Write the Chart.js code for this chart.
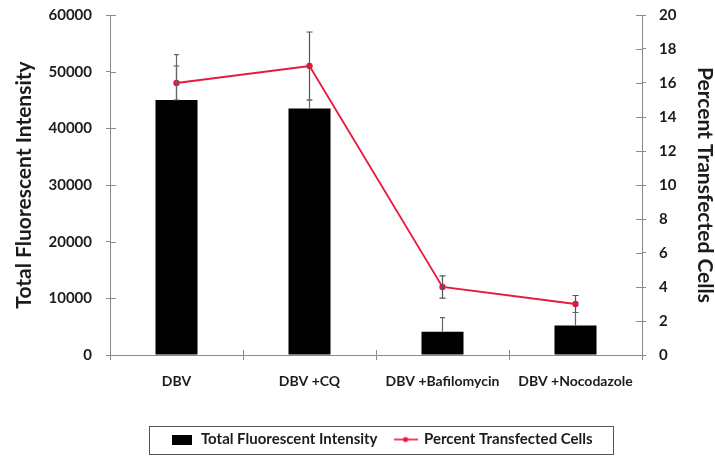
<!DOCTYPE html>
<html>
<head>
<meta charset="utf-8">
<script src="https://cdn.jsdelivr.net/npm/chart.js@4.4.1/dist/chart.umd.min.js"></script>
<style>
  html, body { margin: 0; padding: 0; background: #ffffff; }
  #wrap { width: 715px; height: 456px; position: relative; }
</style>
</head>
<body>
<div id="wrap"><canvas id="chart"></canvas></div>
<script>
// Treatments on the x axis
const treatments = ['DBV', 'DBV +CQ', 'DBV +Bafilomycin', 'DBV +Nocodazole'];
// Total fluorescent intensity (left axis) with its error
const fluorescence = [45000, 43500, 4100, 5200];
const fluorescenceErr = [8000, 1500, 2500, 2300];
// Percent transfected cells (right axis) with its error
const transfected = [16, 17, 4, 3];
const transfectedErr = [1, 2, 0.65, 0.5];
// Axis ranges
const intensityAxis = { min: 0, max: 60000, step: 10000 };
const percentAxis = { min: 0, max: 20, step: 2 };

const FONT = 'Lato, "Open Sans", "DejaVu Sans", sans-serif';
const TEXT = '#1c1c1c';
const AXIS = '#8a8a8a';
const RED = '#e8183c';

// Small swatches used as legend markers
function makeSwatch(kind) {
  const c = document.createElement('canvas');
  if (kind === 'bar') {
    c.width = 20; c.height = 10;
    const g = c.getContext('2d');
    g.fillStyle = '#000';
    g.fillRect(0, 0, 20, 10);
  } else {
    c.width = 24; c.height = 10;
    const g = c.getContext('2d');
    g.strokeStyle = RED; g.lineWidth = 1.6;
    g.beginPath(); g.moveTo(0, 5); g.lineTo(24, 5); g.stroke();
    g.fillStyle = RED;
    g.beginPath(); g.arc(12, 5, 2.6, 0, Math.PI * 2); g.fill();
  }
  return c;
}
const barSwatch = makeSwatch('bar');
const lineSwatch = makeSwatch('line');

// Error bars drawn from the dataset values and their errors
const errorBars = {
  id: 'errorBars',
  afterDatasetsDraw(chart) {
    const ctx = chart.ctx;
    chart.data.datasets.forEach((ds, i) => {
      const meta = chart.getDatasetMeta(i);
      const scale = chart.scales[ds.yAxisID];
      const errs = ds.errors;
      if (!errs) return;
      ctx.save();
      ctx.strokeStyle = ds.errorColor;
      ctx.lineWidth = 1.2;
      meta.data.forEach((el, j) => {
        const v = ds.data[j];
        const e = errs[j];
        const x = el.x;
        const yTop = scale.getPixelForValue(v + e);
        // the lower half of a bar's error bar lies inside the black bar
        const yBot = ds.upperOnly ? scale.getPixelForValue(v)
                                  : scale.getPixelForValue(Math.max(v - e, scale.min));
        const cap = ds.capHalf;
        ctx.beginPath();
        ctx.moveTo(x, yTop); ctx.lineTo(x, yBot);
        ctx.moveTo(x - cap, yTop); ctx.lineTo(x + cap, yTop);
        if (!ds.upperOnly) { ctx.moveTo(x - cap, yBot); ctx.lineTo(x + cap, yBot); }
        ctx.stroke();
      });
      ctx.restore();
    });
  }
};

// Nudge the legend box into place below the plot
const legendNudge = {
  id: 'legendNudge',
  afterLayout(chart) {
    const lg = chart.legend;
    if (!lg) return;
    lg.left += 6; lg.right += 6;
    lg.top += 3; lg.bottom += 3;
  }
};

// Tick marks that cross the axis lines, and the legend frame
const axisDecor = {
  id: 'axisDecor',
  afterDraw(chart) {
    const ctx = chart.ctx;
    const area = chart.chartArea;
    ctx.save();
    ctx.strokeStyle = AXIS;
    ctx.lineWidth = 1;
    const y = chart.scales.y, y1 = chart.scales.y1, x = chart.scales.x;
    y.ticks.forEach((t, i) => {
      const p = Math.round(y.getPixelForTick(i)) + 0.5;
      ctx.beginPath(); ctx.moveTo(area.left, p); ctx.lineTo(area.left + 6, p); ctx.stroke();
    });
    y1.ticks.forEach((t, i) => {
      const p = Math.round(y1.getPixelForTick(i)) + 0.5;
      ctx.beginPath(); ctx.moveTo(area.right - 6, p); ctx.lineTo(area.right, p); ctx.stroke();
    });
    for (let i = 1; i < x.ticks.length; i++) {
      const p = Math.round(x.getPixelForValue(i - 0.5)) + 0.5;
      ctx.beginPath(); ctx.moveTo(p, area.bottom - 5); ctx.lineTo(p, area.bottom); ctx.stroke();
    }
    // frame around the legend
    const lg = chart.legend;
    if (lg && lg.legendHitBoxes && lg.legendHitBoxes.length) {
      const boxes = lg.legendHitBoxes;
      const left = Math.min(...boxes.map(b => b.left));
      const right = Math.max(...boxes.map(b => b.left + b.width));
      const mid = boxes[0].top + boxes[0].height / 2;
      ctx.strokeStyle = '#555';
      ctx.lineWidth = 1;
      ctx.strokeRect(Math.round(left - 22) + 0.5, Math.round(mid - 14) + 0.5,
                     Math.round(right - left + 43), 28);
    }
    ctx.restore();
  }
};

// Keep the value axes flush with the top of the plot
function trimVerticalPadding(scale) {
  scale.paddingTop = 0;
  scale.paddingBottom = 0;
}

new Chart(document.getElementById('chart'), {
  data: {
    labels: treatments,
    datasets: [
      {
        type: 'line',
        label: 'Percent Transfected Cells',
        data: transfected,
        errors: transfectedErr,
        errorColor: '#555',
        capHalf: 3,
        yAxisID: 'y1',
        borderColor: RED,
        backgroundColor: RED,
        borderWidth: 1.8,
        pointRadius: 3.2,
        pointHoverRadius: 3.2,
        pointBackgroundColor: RED,
        pointBorderWidth: 0,
        tension: 0,
        pointStyle: 'circle',
        order: 0
      },
      {
        type: 'bar',
        label: 'Total Fluorescent Intensity',
        data: fluorescence,
        errors: fluorescenceErr,
        upperOnly: true,
        errorColor: '#666',
        capHalf: 2.5,
        yAxisID: 'y',
        backgroundColor: '#000000',
        borderWidth: 0,
        categoryPercentage: 1,
        barPercentage: 0.316,
        order: 1
      }
    ]
  },
  options: {
    responsive: true,
    maintainAspectRatio: false,
    animation: false,
    events: [],
    layout: { padding: { top: 15, bottom: 2, left: 0, right: 0 } },
    scales: {
      x: {
        offset: true,
        grid: { display: true, drawOnChartArea: false, offset: true, tickLength: 5, color: AXIS },
        border: { display: true, color: AXIS, width: 1 },
        ticks: { color: TEXT, padding: 13, font: { family: FONT, size: 14, weight: 'bold' }, maxRotation: 0, autoSkip: false },
        afterFit(scale) { scale.height = 57; }
      },
      y: {
        position: 'left',
        min: intensityAxis.min, max: intensityAxis.max,
        grid: { display: true, drawOnChartArea: false, tickLength: 4, color: AXIS },
        border: { display: true, color: AXIS, width: 1 },
        ticks: {
          stepSize: intensityAxis.step, color: TEXT, padding: 14,
          font: { family: FONT, size: 15, weight: 'bold' },
          callback: v => String(v)
        },
        title: {
          display: true, text: 'Total Fluorescent Intensity', color: TEXT,
          font: { family: FONT, size: 21, weight: 'bold', lineHeight: 1 },
          padding: { top: 14, bottom: 0 }
        },
        afterFit(scale) { scale.width = 110; trimVerticalPadding(scale); }
      },
      y1: {
        position: 'right',
        min: percentAxis.min, max: percentAxis.max,
        grid: { display: true, drawOnChartArea: false, tickLength: 4, color: AXIS },
        border: { display: true, color: AXIS, width: 1 },
        ticks: {
          stepSize: percentAxis.step, color: TEXT, padding: 13,
          font: { family: FONT, size: 15, weight: 'bold' }
        },
        title: {
          display: true, text: 'Percent Transfected Cells', color: TEXT,
          font: { family: FONT, size: 21, weight: 'bold', lineHeight: 1 },
          padding: { top: 0, bottom: 0 }
        },
        afterFit(scale) { scale.width = 73; trimVerticalPadding(scale); }
      }
    },
    plugins: {
      tooltip: { enabled: false },
      legend: {
        position: 'bottom',
        fullSize: false,
        reverse: true,
        labels: {
          color: TEXT,
          font: { family: FONT, size: 15, weight: 'bold' },
          usePointStyle: true,
          padding: 17,
          generateLabels(chart) {
            return chart.data.datasets.map((ds, i) => ({
              text: ds.label,
              pointStyle: ds.type === 'bar' ? barSwatch : lineSwatch,
              fillStyle: ds.backgroundColor,
              strokeStyle: ds.backgroundColor,
              lineWidth: 0,
              fontColor: TEXT,
              hidden: false,
              datasetIndex: i
            }));
          },
          pointStyleWidth: 22
        }
      }
    }
  },
  plugins: [legendNudge, errorBars, axisDecor]
});
</script>
</body>
</html>
